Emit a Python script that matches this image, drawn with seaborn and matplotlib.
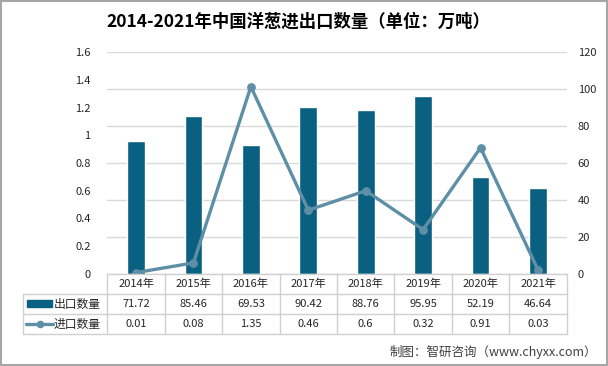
import numpy as np
import matplotlib.pyplot as plt
import seaborn as sns
from matplotlib.lines import Line2D
from matplotlib.patches import Rectangle

years = ['2014年', '2015年', '2016年', '2017年', '2018年', '2019年', '2020年', '2021年']
export_qty = [71.72, 85.46, 69.53, 90.42, 88.76, 95.95, 52.19, 46.64]
import_qty = [0.01, 0.08, 1.35, 0.46, 0.6, 0.32, 0.91, 0.03]
export_label = '出口数量'
import_label = '进口数量'
left_ticks = [0, 0.2, 0.4, 0.6, 0.8, 1, 1.2, 1.4, 1.6]
right_ticks = [0, 20, 40, 60, 80, 100, 120]

sns.set_style('white')
plt.rcParams['font.family'] = ['Noto Sans CJK SC', 'DejaVu Sans']

bar_color = '#0A6080'
line_color = '#5E8FA6'
grid_color = '#D9D9D9'
text_color = '#262626'

W, H = 608, 366
fig = plt.figure(figsize=(W / 100, H / 100), dpi=100)


def fx(x):
    return x / W


def fy(y):
    return 1 - y / H


# plot area in pixels
x0, x1, ytop, ybot = 107.3, 566.7, 52, 274
ax = fig.add_axes([fx(x0), fy(ybot), fx(x1 - x0), (ybot - ytop) / H])

# bars on right axis
sns.barplot(x=years, y=export_qty, ax=ax, color=bar_color, width=0.31,
            saturation=1, zorder=2)
ax.grid(axis='y', color=grid_color, lw=1)
ax.set_axisbelow(True)

# line on left axis
ax2 = ax.twinx()
sns.pointplot(x=years, y=import_qty, ax=ax2, color=line_color,
              markers='o', markersize=4.5, linewidth=2.4)

ax.set_ylim(0, 120)
ax.set_yticks(right_ticks)
ax.set_yticklabels([str(v) for v in right_ticks])
ax.yaxis.tick_right()
ax.yaxis.set_label_position('right')
ax2.set_ylim(0, 1.6)
ax2.set_yticks(left_ticks)
ax2.set_yticklabels([f'{v:g}' for v in left_ticks])
ax2.yaxis.tick_left()
ax2.yaxis.set_label_position('left')
ax.set_xlim(-0.5, len(years) - 0.5)
ax2.set_xlim(-0.5, len(years) - 0.5)

for a in (ax, ax2):
    for s in a.spines.values():
        s.set_visible(False)
    a.tick_params(axis='y', length=0, labelsize=8, colors=text_color)
    a.tick_params(axis='x', bottom=False, labelbottom=False)
    a.set_xlabel('')
    a.set_ylabel('')
ax.tick_params(axis='y', pad=8)
ax2.tick_params(axis='y', pad=12)

# data table
tcol = '#D0D0D0'
row_edges = [274, 294, 314, 334]
col_w = (x1 - x0) / len(years)
for i, y in enumerate(row_edges):
    xs = x0 if i == 0 else 23
    fig.add_artist(Line2D([fx(xs), fx(x1)], [fy(y), fy(y)], color=tcol, lw=1,
                          transform=fig.transFigure))
for k in range(len(years) + 1):
    xv = x0 + k * col_w
    fig.add_artist(Line2D([fx(xv), fx(xv)], [fy(274), fy(334)], color=tcol, lw=1,
                          transform=fig.transFigure))
fig.add_artist(Line2D([fx(23), fx(23)], [fy(294), fy(334)], color=tcol, lw=1,
                      transform=fig.transFigure))

tr = ax.get_xaxis_transform()
row_centers = [(274 - 284) / 222, (274 - 304) / 222, (274 - 324) / 222]
for i in range(len(years)):
    ax.text(i, row_centers[0], years[i], transform=tr, ha='center', va='center',
            fontsize=8, color=text_color, clip_on=False)
    ax.text(i, row_centers[1], f'{export_qty[i]:g}', transform=tr, ha='center',
            va='center', fontsize=8, color=text_color, clip_on=False)
    ax.text(i, row_centers[2], f'{import_qty[i]:g}', transform=tr, ha='center',
            va='center', fontsize=8, color=text_color, clip_on=False)

# legend keys inside table
fig.add_artist(Rectangle((fx(27), fy(307)), fx(25), 7 / H, color=bar_color,
                         transform=fig.transFigure))
fig.text(fx(54), fy(304), export_label, ha='left', va='center', fontsize=8.5,
         color=text_color)
fig.add_artist(Line2D([fx(26), fx(53)], [fy(324), fy(324)], color=line_color,
                      lw=2.4, transform=fig.transFigure))
fig.add_artist(Line2D([fx(39.5)], [fy(324)], color=line_color, marker='o',
                      markersize=4.5, transform=fig.transFigure))
fig.text(fx(54), fy(324), import_label, ha='left', va='center', fontsize=8.5,
         color=text_color)

# title and source
fig.text(fx(298), fy(22), '2014-2021年中国洋葱进出口数量（单位：万吨）', ha='center',
         va='center', fontsize=12.5, fontweight='bold', color='black')
fig.text(fx(597), fy(352), '制图：智研咨询（www.chyxx.com）', ha='right',
         va='center', fontsize=9, color='#404040')

# outer border
fig.add_artist(Rectangle((0.002, 0.003), 0.996, 0.994, fill=False,
                         edgecolor='#A6A6A6', lw=1.5, transform=fig.transFigure))

fig.savefig('out.png', dpi=100)
